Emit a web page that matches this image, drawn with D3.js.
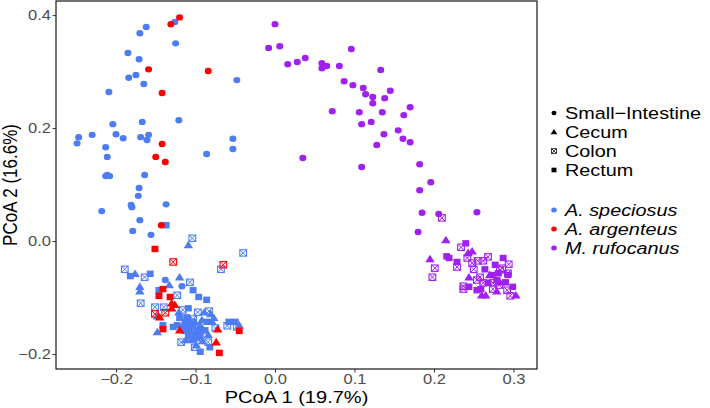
<!DOCTYPE html>
<html><head><meta charset="utf-8">
<script src="https://cdn.jsdelivr.net/npm/d3@7"></script>
<style>body{margin:0;background:#fff}svg{display:block}text{font-family:"Liberation Sans",Arial,sans-serif}</style>
</head><body><svg id="c" width="710" height="408"></svg>
<script>
// ---- data (PCoA 1, PCoA 2) ----
const speciesNames = ["A. speciosus", "A. argenteus", "M. rufocanus"];
const tissueNames = ["Small\u2212Intestine", "Cecum", "Colon", "Rectum"];
const xTicks = [-0.2, -0.1, 0.0, 0.1, 0.2, 0.3];
const yTicks = [-0.2, 0.0, 0.2, 0.4];

const speciosusSI = [[-0.249,0.173],[-0.247,0.184],[-0.230,0.188],[-0.213,0.166],[-0.211,0.149],[-0.204,0.207],[-0.200,0.189],[-0.191,0.182],[-0.209,0.264],[-0.185,0.333],[-0.184,0.289],[-0.175,0.294],[-0.171,0.322],[-0.170,0.368],[-0.162,0.379],[-0.165,0.278],[-0.126,0.388],[-0.125,0.350],[-0.121,0.214],[-0.167,0.211],[-0.169,0.184],[-0.161,0.179],[-0.159,0.188],[-0.164,0.117],[-0.213,0.115],[-0.211,0.117],[-0.208,0.115],[-0.171,0.094],[-0.172,0.080],[-0.086,0.154],[-0.053,0.181],[-0.053,0.163],[-0.048,0.285],[-0.218,0.053],[-0.181,0.064],[-0.180,0.060],[-0.137,0.065],[-0.170,0.037],[-0.179,0.018],[-0.156,0.011],[-0.117,-0.080],[-0.138,-0.069]];
const speciosusCecum = [[-0.109,-0.007],[-0.176,-0.058],[-0.120,-0.064],[-0.133,-0.078],[-0.170,-0.081],[-0.170,-0.089],[-0.148,-0.133],[-0.148,-0.161],[-0.121,-0.126],[-0.089,-0.126],[-0.081,-0.129],[-0.092,-0.140],[-0.079,-0.143],[-0.116,-0.149],[-0.094,-0.149],[-0.091,-0.177],[-0.045,-0.149],[-0.107,-0.140],[-0.099,-0.184],[-0.077,-0.136],[-0.101,-0.143],[-0.084,-0.166],[-0.112,-0.175]];
const speciosusColon = [[-0.104,0.005],[-0.040,-0.021],[-0.068,-0.050],[-0.189,-0.050],[-0.164,-0.064],[-0.107,-0.073],[-0.123,-0.096],[-0.169,-0.110],[-0.151,-0.117],[-0.140,-0.117],[-0.116,-0.122],[-0.097,-0.126],[-0.083,-0.124],[-0.103,-0.138],[-0.101,-0.152],[-0.075,-0.154],[-0.060,-0.150],[-0.118,-0.179],[-0.101,-0.188],[-0.084,-0.179],[-0.048,-0.152]];
const speciosusRectum = [[-0.137,0.028],[-0.182,-0.062],[-0.157,-0.058],[-0.146,-0.087],[-0.103,-0.087],[-0.096,-0.099],[-0.086,-0.104],[-0.058,-0.143],[-0.050,-0.143],[-0.094,-0.196],[-0.082,-0.188],[-0.098,-0.172],[-0.104,-0.175],[-0.109,-0.119],[-0.111,-0.135],[-0.120,-0.136],[-0.086,-0.143],[-0.123,-0.149],[-0.108,-0.149],[-0.113,-0.159],[-0.107,-0.159],[-0.098,-0.159],[-0.128,-0.152],[-0.141,-0.149],[-0.101,-0.166],[-0.091,-0.158],[-0.113,-0.143],[-0.103,-0.150],[-0.094,-0.168],[-0.088,-0.158],[-0.109,-0.168],[-0.117,-0.154]];

const argenteusSI = [[-0.131,0.384],[-0.120,0.396],[-0.159,0.304],[-0.084,0.301],[-0.142,0.262],[-0.142,0.172],[-0.150,0.149],[-0.138,0.140],[-0.143,0.028]];
const argenteusCecum = [[-0.130,-0.110],[-0.126,-0.113],[-0.130,-0.119],[-0.145,-0.135],[-0.072,-0.156],[-0.074,-0.179],[-0.120,-0.158]];
const argenteusColon = [[-0.128,-0.037],[-0.065,-0.042],[-0.151,-0.129],[-0.138,-0.127]];
const argenteusRectum = [[-0.151,-0.014],[-0.141,-0.085],[-0.146,-0.097],[-0.132,-0.099],[-0.141,-0.156],[-0.070,-0.198],[-0.045,-0.159]];

const rufocanusSI = [[0.000,0.384],[-0.008,0.342],[0.006,0.345],[0.016,0.313],[0.028,0.317],[0.038,0.324],[0.059,0.315],[0.059,0.306],[0.065,0.310],[0.081,0.310],[0.096,0.340],[0.087,0.283],[0.098,0.276],[0.111,0.271],[0.114,0.260],[0.123,0.255],[0.123,0.244],[0.133,0.303],[0.138,0.253],[0.145,0.266],[0.072,0.230],[0.106,0.228],[0.135,0.228],[0.170,0.237],[0.162,0.223],[0.109,0.207],[0.121,0.211],[0.155,0.196],[0.137,0.189],[0.128,0.170],[0.161,0.181],[0.170,0.175],[0.035,0.147],[0.109,0.131],[0.182,0.136],[0.196,0.104],[0.182,0.090],[0.185,0.050],[0.206,0.048],[0.254,0.051],[0.180,0.016]];
const rufocanusCecum = [[0.215,0.002],[0.195,-0.032],[0.243,-0.021],[0.248,-0.018],[0.260,-0.096],[0.265,-0.096],[0.303,-0.096],[0.244,-0.064],[0.279,-0.089],[0.270,-0.060],[0.283,-0.073]];
const rufocanusColon = [[0.210,0.041],[0.234,-0.011],[0.201,-0.048],[0.198,-0.064],[0.229,-0.046],[0.242,-0.030],[0.248,-0.039],[0.255,-0.035],[0.268,-0.028],[0.262,-0.035],[0.294,-0.041],[0.286,-0.048],[0.293,-0.057],[0.237,-0.080],[0.237,-0.085],[0.258,-0.064],[0.250,-0.050],[0.262,-0.074],[0.274,-0.085],[0.292,-0.087],[0.296,-0.097],[0.283,-0.051],[0.254,-0.069],[0.274,-0.074],[0.282,-0.078]];
const rufocanusRectum = [[0.240,-0.004],[0.216,-0.027],[0.219,-0.030],[0.229,-0.037],[0.287,-0.030],[0.277,-0.042],[0.244,-0.081],[0.259,-0.085],[0.299,-0.081],[0.264,-0.050],[0.268,-0.074],[0.279,-0.069],[0.293,-0.060],[0.273,-0.060],[0.254,-0.087],[0.281,-0.057],[0.290,-0.073]];

const groups = [
  ["A. speciosus","Small\u2212Intestine",speciosusSI],["A. speciosus","Cecum",speciosusCecum],["A. speciosus","Colon",speciosusColon],["A. speciosus","Rectum",speciosusRectum],
  ["A. argenteus","Small\u2212Intestine",argenteusSI],["A. argenteus","Cecum",argenteusCecum],["A. argenteus","Colon",argenteusColon],["A. argenteus","Rectum",argenteusRectum],
  ["M. rufocanus","Small\u2212Intestine",rufocanusSI],["M. rufocanus","Cecum",rufocanusCecum],["M. rufocanus","Colon",rufocanusColon],["M. rufocanus","Rectum",rufocanusRectum]
];
const points = [];
groups.forEach(([sp,ti,arr]) => arr.forEach(([x,y]) => points.push({sp,ti,x,y})));

// ---- drawing ----
const svg = d3.select("#c");
const L = 56, R = 537, T = 1, B = 369;
const SX = 1.18; // horizontal stretch of text seen in the reference
const x = d3.scaleLinear().domain([-0.2755, 0.3296]).range([L, R]);
const y = d3.scaleLinear().domain([-0.2265, 0.425]).range([B, T]);
const color = d3.scaleOrdinal().domain(speciesNames).range(["#4D7CF4", "#FF0000", "#A020F0"]);

function drawShape(g, ti, c, s) {
  if (ti === tissueNames[0]) {
    g.append("ellipse").attr("rx", 3.5 * s).attr("ry", 3.2 * s).attr("fill", c);
  } else if (ti === "Cecum") {
    const h = 4.3 * s;
    g.append("path").attr("d", `M0,${-h}L${h * 1.1},${h * 0.75}L${-h * 1.1},${h * 0.75}Z`).attr("fill", c);
  } else if (ti === "Colon") {
    const h = 3.2 * s;
    g.append("rect").attr("x", -h * 1.05).attr("y", -h).attr("width", 2.1 * h).attr("height", 2 * h)
      .attr("fill", "none").attr("stroke", c).attr("stroke-width", 1.1 * s);
    g.append("path").attr("d", `M${-h},${-h}L${h},${h}M${-h},${h}L${h},${-h}`)
      .attr("stroke", c).attr("stroke-width", 1.0 * s);
  } else {
    const h = 3.2 * s;
    g.append("rect").attr("x", -h * 1.08).attr("y", -h).attr("width", 2.16 * h).attr("height", 2 * h).attr("fill", c);
  }
}

const pg = svg.append("g");
points.forEach(p => {
  const g = pg.append("g").attr("transform", `translate(${x(p.x)},${y(p.y)})`);
  drawShape(g, p.ti, color(p.sp), 1);
});

// panel border
svg.append("rect").attr("x", L).attr("y", T).attr("width", R - L).attr("height", B - T)
  .attr("fill", "none").attr("stroke", "#000").attr("stroke-width", 1.1);

// axes
const fmt = d => d3.format(".1f")(d).replace("-", "\u2212");
const xa = svg.append("g").attr("transform", `translate(0,${B})`)
  .call(d3.axisBottom(x).tickValues(xTicks).tickFormat(fmt).tickSizeOuter(0).tickSize(3.5));
const ya = svg.append("g").attr("transform", `translate(${L},0)`)
  .call(d3.axisLeft(y).tickValues(yTicks).tickFormat(fmt).tickSizeOuter(0).tickSize(3.5));
[xa, ya].forEach(a => {
  a.select(".domain").remove();
  a.selectAll(".tick line").attr("stroke", "#333").attr("stroke-width", 1);
  a.selectAll(".tick text").attr("fill", "#4D4D4D").style("font-size", "14px")
    .style("font-family", "'Liberation Sans',Arial,sans-serif")
    .attr("transform", `scale(${SX},1)`);
});
xa.selectAll(".tick text").attr("dy", null).attr("y", 15);
ya.selectAll(".tick text").attr("x", -4.3);

// axis titles
svg.append("text").attr("transform", `translate(${(L + R) / 2},403) scale(${SX},1)`).attr("text-anchor", "middle")
  .style("font-size", "17px").attr("fill", "#000").text("PCoA 1 (19.7%)");
svg.append("text").attr("transform", `translate(17,${(T + B) / 2}) scale(${SX},1) rotate(-90)`).attr("text-anchor", "middle")
  .style("font-size", "17px").attr("fill", "#000").text("PCoA 2 (16.6%)");

// legends
const lg = svg.append("g");
const shapeY = [113, 132, 151, 170];
tissueNames.forEach((t, i) => {
  const g = lg.append("g").attr("transform", `translate(554,${shapeY[i]})`);
  drawShape(g, t, "#000", 0.72);
  lg.append("text").attr("transform", `translate(565,${shapeY[i]}) scale(${SX},1)`).attr("dy", "0.36em")
    .style("font-size", "16.8px").attr("fill", "#000").text(t);
});
const colY = [210, 229, 248];
speciesNames.forEach((s, i) => {
  lg.append("ellipse").attr("cx", 554).attr("cy", colY[i]).attr("rx", 2.8).attr("ry", 2.5).attr("fill", color(s));
  lg.append("text").attr("transform", `translate(565,${colY[i]}) scale(${SX},1)`).attr("dy", "0.36em")
    .style("font-size", "16.8px").style("font-style", "italic").attr("fill", "#000").text(s);
});
</script></body></html>
